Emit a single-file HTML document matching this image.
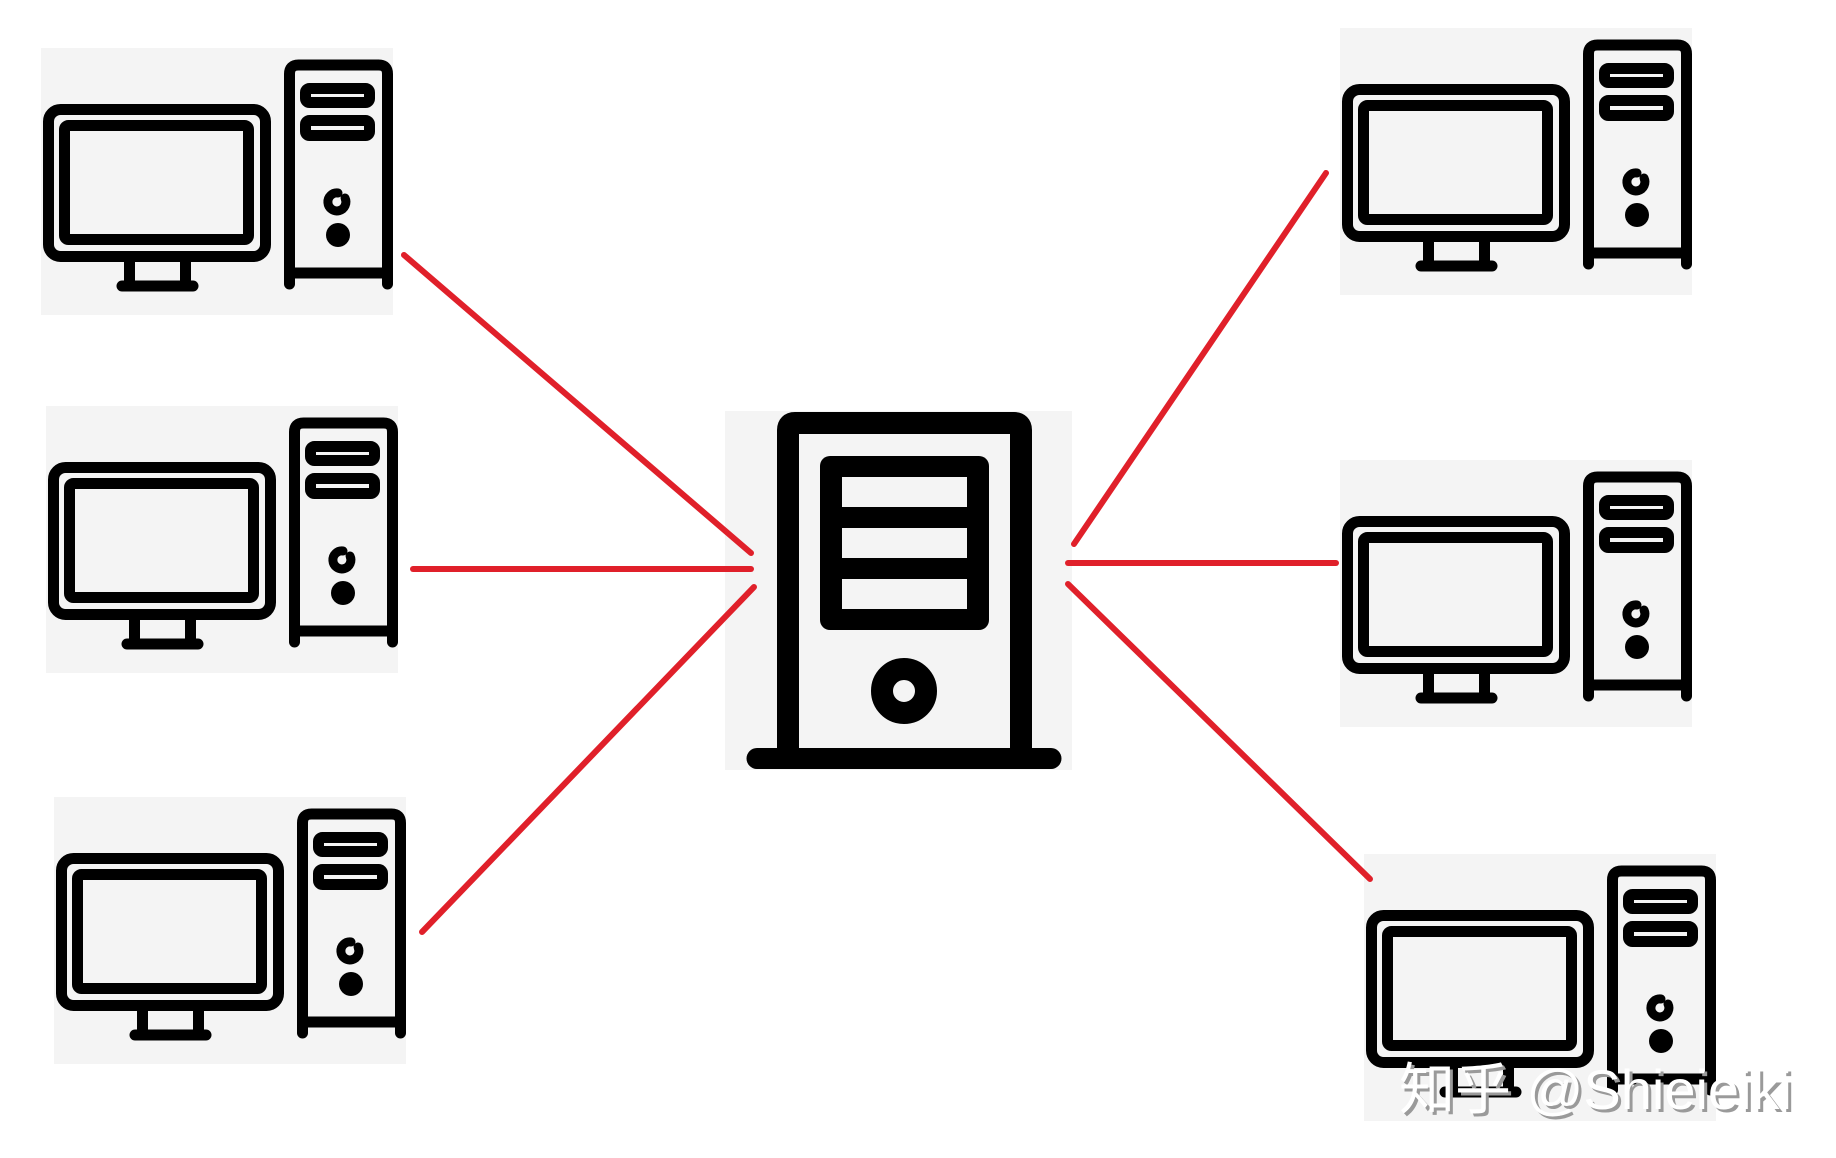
<!DOCTYPE html>
<html><head><meta charset="utf-8"><style>
html,body{margin:0;padding:0;background:#fff;width:1836px;height:1158px;overflow:hidden}
svg{display:block}
</style></head><body>
<svg width="1836" height="1158" viewBox="0 0 1836 1158" xmlns="http://www.w3.org/2000/svg">
<defs>
<g id="pc">
<rect x="0" y="0" width="352" height="267" fill="#f4f4f4"/>
<g fill="none" stroke="#000" stroke-linecap="round" stroke-linejoin="round">
<rect x="7.5" y="61.5" width="217" height="147" rx="12" stroke-width="11"/>
<rect x="23.5" y="77.5" width="184" height="114" rx="4" stroke-width="11"/>
<path d="M88.5 212 V236 M144.5 212 V236" stroke-width="11"/>
<path d="M81 238 H152" stroke-width="11"/>
<path d="M248.5 236 V26 Q248.5 17 257.5 17 H337.5 Q346.5 17 346.5 26 V236" stroke-width="11"/>
<path d="M248.5 225 H346.5" stroke-width="11"/>
<rect x="264.5" y="40.5" width="64" height="14" rx="4" stroke-width="11"/>
<rect x="264.5" y="72.5" width="64" height="15" rx="4" stroke-width="11"/>
<path d="M304 150 A9 9 0 1 1 297 145" stroke-width="9"/>
</g>
<circle cx="297" cy="187" r="12" fill="#000"/>
</g>
</defs>
<use href="#pc" x="41" y="48"/>
<use href="#pc" x="46" y="406"/>
<use href="#pc" x="54" y="797"/>
<use href="#pc" x="1340" y="28"/>
<use href="#pc" x="1340" y="460"/>
<use href="#pc" x="1364" y="854"/>

<rect x="725" y="411" width="347" height="359" fill="#f4f4f4"/>
<g fill="none" stroke="#000" stroke-linecap="round" stroke-linejoin="round">
<path d="M788 750 V430 Q788 423 795 423 H1014 Q1021 423 1021 430 V750" stroke-width="22"/>
<path d="M757 758.5 H1051" stroke-width="21"/>
<circle cx="904" cy="691" r="22" stroke-width="22"/>
</g>
<rect x="820" y="456" width="169" height="174" rx="10" fill="#000"/>
<rect x="842" y="477" width="125" height="30" fill="#f4f4f4"/>
<rect x="842" y="528" width="125" height="30" fill="#f4f4f4"/>
<rect x="842" y="579" width="125" height="30" fill="#f4f4f4"/>

<g stroke="#e0202a" stroke-width="6" stroke-linecap="round">
<line x1="404" y1="255" x2="751" y2="553"/>
<line x1="413" y1="569" x2="751" y2="569"/>
<line x1="422" y1="932" x2="754" y2="587"/>
<line x1="1326" y1="173" x2="1074" y2="544"/>
<line x1="1068" y1="563" x2="1336" y2="563"/>
<line x1="1068" y1="584" x2="1370" y2="879"/>
</g>

<text x="1402" y="1112" font-family="Liberation Sans, Noto Sans CJK SC, sans-serif" font-size="56" fill="#9a9a9a">知乎 @Shieieiki</text>
<text x="1399" y="1109" font-family="Liberation Sans, Noto Sans CJK SC, sans-serif" font-size="56" fill="#ffffff">知乎 @Shieieiki</text>
</svg>
</body></html>
